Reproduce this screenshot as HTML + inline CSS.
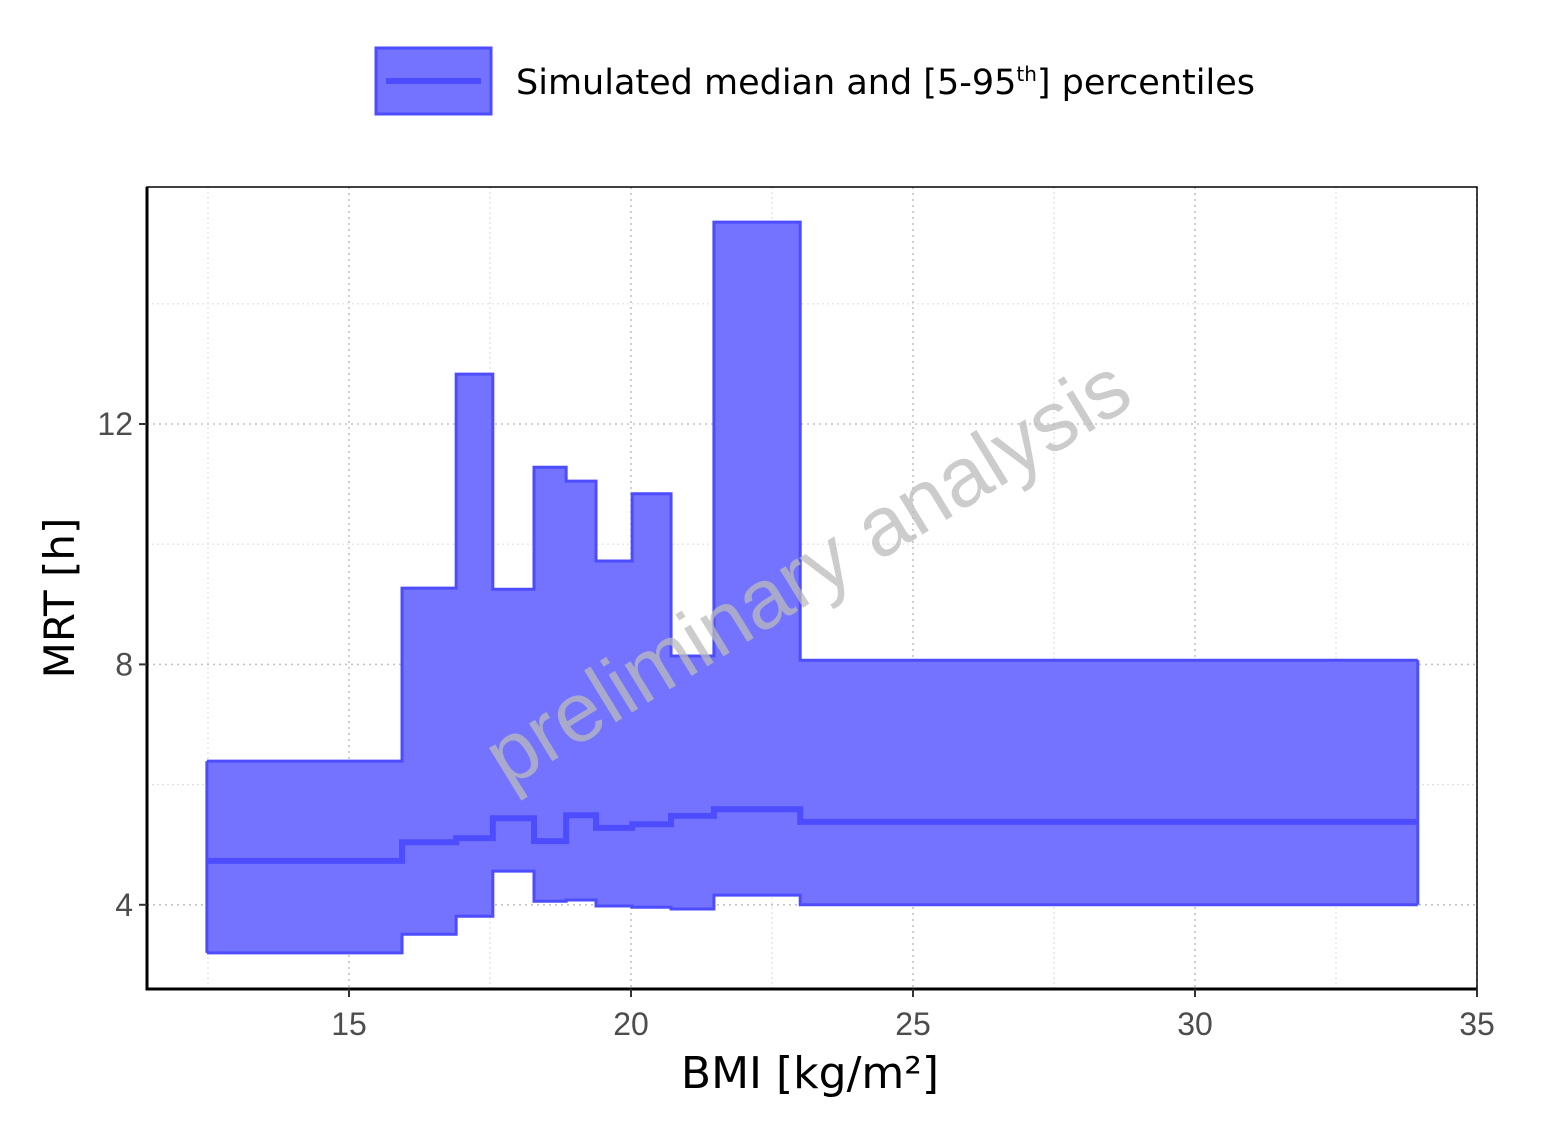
<!DOCTYPE html>
<html><head><meta charset="utf-8"><style>
body{margin:0;background:#fff;width:1562px;height:1140px;overflow:hidden}
svg{display:block}
</style></head><body>
<svg id="chart" width="1562" height="1140" xmlns="http://www.w3.org/2000/svg">
  <g id="legend">
    <rect x="376" y="48" width="115" height="66" fill="#7373ff" stroke="#4d4dff" stroke-width="3"/>
    <line x1="386" y1="81" x2="481" y2="81" stroke="#4d4dff" stroke-width="6"/>
    <text x="516" y="94" font-family="DejaVu Sans, Liberation Sans, sans-serif" font-size="35" fill="#000">Simulated median and [5-95<tspan font-size="20" dy="-13">th</tspan><tspan dy="13">] percentiles</tspan></text>
  </g>
  <g id="grid"></g>
  <g id="marks"></g>
  <text transform="translate(822,596) rotate(-31.5)" text-anchor="middle" font-family="Liberation Sans, sans-serif" font-size="84" fill="#bbbbbb" fill-opacity="0.75">preliminary analysis</text>
  <g id="axes"></g>
  <text x="810" y="1088" text-anchor="middle" font-family="DejaVu Sans, Liberation Sans, sans-serif" font-size="44">BMI [kg/m²]</text>
  <text transform="translate(74,598) rotate(-90)" text-anchor="middle" font-family="DejaVu Sans, Liberation Sans, sans-serif" font-size="42">MRT [h]</text>
</svg>
<script>
const binEdges=[12.48,15.94,16.90,17.55,18.28,18.85,19.38,20.02,20.71,21.47,23.0,33.95];
const upperVals=[6.39,9.27,12.83,9.25,11.28,11.05,9.72,10.84,8.14,15.36,8.07];
const medianVals=[4.73,5.04,5.11,5.44,5.06,5.49,5.28,5.34,5.48,5.59,5.38];
const lowerVals=[3.20,3.51,3.81,4.56,4.06,4.08,3.98,3.96,3.93,4.16,4.0];
const xTicks=[15,20,25,30,35];
const xMinor=[12.5,17.5,22.5,27.5,32.5];
const yTicks=[4,8,12];
const yMinor=[6,10,14];

const L=147,R=1477,T=187,B=989;
const X=v=>349+(v-15)*56.4;
const Y=v=>424-(v-12)*60.1;
const NS='http://www.w3.org/2000/svg';
function mk(tag,parent,attrs){const e=document.createElementNS(NS,tag);for(const k in attrs)e.setAttribute(k,attrs[k]);parent.appendChild(e);return e;}
const grid=document.getElementById('grid'),marks=document.getElementById('marks'),axes=document.getElementById('axes');
xMinor.forEach(v=>{const e=mk('line',grid,{x1:X(v),x2:X(v),y1:T,y2:B,stroke:'#e0e0e0','stroke-width':1.2,'stroke-dasharray':'2,3'});

});
yMinor.forEach(v=>{const e=mk('line',grid,{x1:L,x2:R,y1:Y(v),y2:Y(v),stroke:'#e0e0e0','stroke-width':1.2,'stroke-dasharray':'2,3'});

});
xTicks.forEach(v=>{const e=mk('line',grid,{x1:X(v),x2:X(v),y1:T,y2:B,stroke:'#c4c4c4','stroke-width':1.6,'stroke-dasharray':'2,4'});

});
yTicks.forEach(v=>{const e=mk('line',grid,{x1:L,x2:R,y1:Y(v),y2:Y(v),stroke:'#c4c4c4','stroke-width':1.6,'stroke-dasharray':'2,4'});

});
function stepPts(vals){const p=[];vals.forEach((v,i)=>{p.push([X(binEdges[i]),Y(v)]);p.push([X(binEdges[i+1]),Y(v)]);});return p;}
const up=stepPts(upperVals),lo=stepPts(lowerVals),md=stepPts(medianVals);
const ribbon=up.concat(lo.slice().reverse());
const rb=mk('polygon',marks,{points:ribbon.map(p=>p.join(',')).join(' '),fill:'#7373ff',stroke:'none'});


[[up,'upper-percentile-line',3],[lo,'lower-percentile-line',3],[md,'median-line',6]].forEach(([pts,n,w])=>{
const e=mk('polyline',marks,{points:pts.map(p=>p.join(',')).join(' '),fill:'none',stroke:'#4d4dff','stroke-width':w});

});
[[up[0],lo[0]],[up[up.length-1],lo[lo.length-1]]].forEach(([a,b])=>{const e=mk('line',marks,{x1:a[0],y1:a[1],x2:b[0],y2:b[1],stroke:'#4d4dff','stroke-width':3});

});
const fr=mk('rect',axes,{x:L,y:T,width:R-L,height:B-T,fill:'none',stroke:'#000','stroke-width':1.5});


const ax=mk('path',axes,{d:`M${L},${T}V${B}H${R}`,fill:'none',stroke:'#000','stroke-width':3});


xTicks.forEach(v=>{const t=mk('line',axes,{x1:X(v),x2:X(v),y1:B,y2:B+8,stroke:'#333','stroke-width':2});


const l=mk('text',axes,{x:X(v),y:B+46,'text-anchor':'middle','font-family':'Liberation Sans, sans-serif','font-size':32,fill:'#4d4d4d'});l.textContent=v;

});
yTicks.forEach(v=>{const t=mk('line',axes,{x1:L-8,x2:L,y1:Y(v),y2:Y(v),stroke:'#333','stroke-width':2});


const l=mk('text',axes,{x:L-14,y:Y(v)+11,'text-anchor':'end','font-family':'Liberation Sans, sans-serif','font-size':32,fill:'#4d4d4d'});l.textContent=v;

});
</script>
</body></html>
